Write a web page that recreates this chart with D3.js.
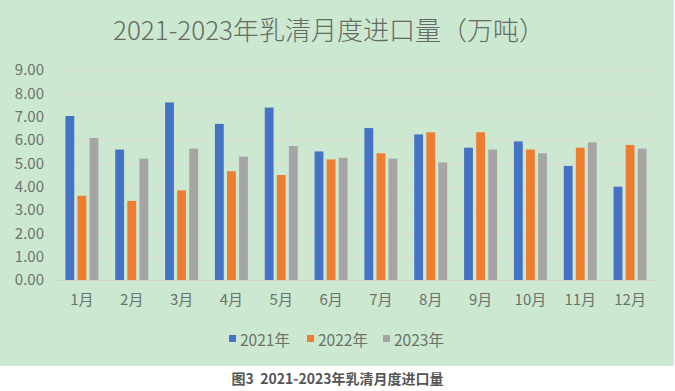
<!DOCTYPE html>
<html><head><meta charset="utf-8">
<script src="https://cdn.jsdelivr.net/npm/d3@7"></script>
<style>body{margin:0;background:#fff}svg{display:block}</style>
</head><body>
<svg id="c" width="675" height="391"></svg>
<script>
const months = ["1月","2月","3月","4月","5月","6月","7月","8月","9月","10月","11月","12月"];
const seriesNames = ["2021年","2022年","2023年"];
const v2021 = [7.03,5.59,7.61,6.69,7.39,5.51,6.51,6.24,5.67,5.94,4.89,4.00];
const v2022 = [3.61,3.39,3.84,4.66,4.50,5.17,5.43,6.33,6.33,5.59,5.67,5.79];
const v2023 = [6.09,5.20,5.63,5.29,5.74,5.24,5.20,5.04,5.59,5.43,5.90,5.63];
const yTicks = [0,1,2,3,4,5,6,7,8,9];
const colors = ["#4472C4","#ED7D31","#A5A5A5"];
const title = "2021-2023年乳清月度进口量（万吨）";
const caption = "图3  2021-2023年乳清月度进口量";

const svg = d3.select("#c");
const font = "'Noto Sans CJK SC','Noto Sans',sans-serif";
svg.append("rect").attr("x",0).attr("y",0).attr("width",674).attr("height",366).attr("fill","#cde8d0");

const x = d3.scaleBand().domain(months).range([57,655]);
const y = d3.scaleLinear().domain([0,9]).range([280,70]);
const inner = d3.scaleBand().domain(seriesNames).range([0,33]).paddingInner(0.27);

// gridlines
svg.append("g").selectAll("line").data(yTicks.filter(d=>d>0)).join("line")
  .attr("x1",57).attr("x2",655).attr("y1",d=>y(d)+0.5).attr("y2",d=>y(d)+0.5)
  .attr("stroke","#dcdcd4").attr("stroke-width",1);

// y axis labels
const ya = svg.append("g").attr("transform","translate(44,0)")
  .call(d3.axisLeft(y).tickValues(yTicks).tickFormat(d3.format(".2f")).tickSize(0).tickPadding(0));
ya.select(".domain").remove();
ya.selectAll("text").attr("font-family",font).attr("font-size",15).attr("fill","#6b736b");

// bars
const data = [v2021,v2022,v2023];
seriesNames.forEach((s,i)=>{
  svg.append("g").selectAll("rect").data(data[i]).join("rect")
    .attr("x",(d,j)=>x(months[j])+x.bandwidth()/2-16.5+inner(s))
    .attr("width",inner.bandwidth())
    .attr("y",d=>y(d)).attr("height",d=>y(0)-y(d))
    .attr("fill",colors[i]);
});

// baseline
svg.append("line").attr("x1",57).attr("x2",655).attr("y1",y(0)+0.5).attr("y2",y(0)+0.5)
  .attr("stroke","#d2d2cc").attr("stroke-width",1);

// x axis
const xa = svg.append("g").attr("transform",`translate(0,${y(0)})`)
  .call(d3.axisBottom(x).tickSize(0).tickPadding(14));
xa.select(".domain").remove();
xa.selectAll("text").attr("font-family",font).attr("font-size",15).attr("fill","#6b736b");

// title
svg.append("text").attr("x",329).attr("y",40).attr("text-anchor","middle")
  .attr("font-family",font).attr("font-size",26).attr("font-weight",300).attr("fill","#646b64").text(title);

// legend
const lx = [229,307,383];
seriesNames.forEach((s,i)=>{
  svg.append("rect").attr("x",lx[i]).attr("y",335).attr("width",7).attr("height",7).attr("fill",colors[i]);
  svg.append("text").attr("x",lx[i]+11).attr("y",345.5).attr("font-family",font).attr("font-size",15.5)
    .attr("fill","#6b736b").text(s);
});

// caption
svg.append("text").attr("x",337.5).attr("y",384).attr("text-anchor","middle")
  .style("white-space","pre")
  .attr("font-family",font).attr("font-size",14).attr("font-weight","bold").attr("fill","#555").text(caption);
</script>
</body></html>
